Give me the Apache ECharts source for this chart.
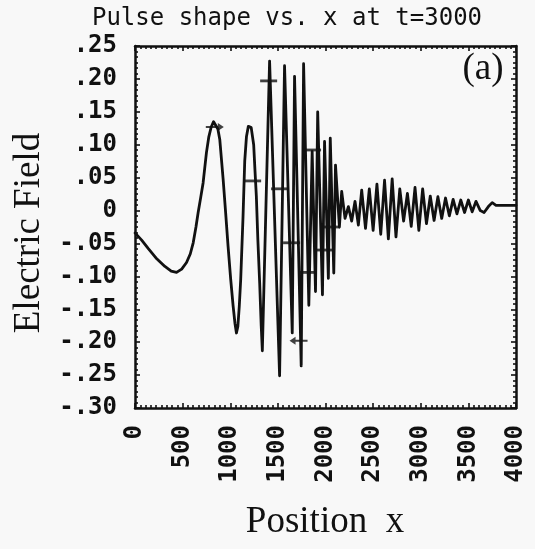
<!DOCTYPE html>
<html><head><meta charset="utf-8">
<script src="https://cdn.jsdelivr.net/npm/echarts@6/dist/echarts.min.js"></script>
<style>html,body{margin:0;padding:0;background:#f8f8f8}#c{width:535px;height:549px}</style>
</head><body><div id="c"></div>
<script>
// ---- texts ----
const titleText = 'Pulse shape vs. x at t=3000';
const xName = 'Position  x';
const yName = 'Electric Field';
const panelTag = '(a)';

// ---- ticks ----
const xTickValues = [0, 500, 1000, 1500, 2000, 2500, 3000, 3500, 4000];
const xTickLabels = ['0', '500', '1000', '1500', '2000', '2500', '3000', '3500', '4000'];
const yTickValues = [-0.30, -0.25, -0.20, -0.15, -0.10, -0.05, 0, 0.05, 0.10, 0.15, 0.20, 0.25];
const yTickLabels = ['-.30', '-.25', '-.20', '-.15', '-.10', '-.05', '0', '.05', '.10', '.15', '.20', '.25'];

// ---- pulse trace ----
const positionX = [
  0, 70, 140, 220, 314, 380, 436, 490, 541, 580, 611, 640, 663, 690, 715, 750, 775, 800, 825, 845,
  870, 890, 925, 950, 977, 1005, 1030, 1050, 1065, 1080, 1095, 1110, 1134, 1152, 1170, 1190, 1204, 1220, 1246, 1260,
  1274, 1290, 1309, 1325, 1337,
  1413, 1518, 1570, 1651, 1675, 1745, 1770, 1825, 1860, 1895, 1918, 1968, 1990, 2030, 2050, 2087, 2105, 2146, 2170,
  2205, 2240, 2275, 2310, 2345, 2380, 2420, 2460, 2500, 2540, 2580, 2620, 2660, 2700, 2740, 2780, 2820, 2860, 2900, 2940,
  2980, 3020, 3060, 3100, 3140, 3180, 3220, 3260, 3300, 3340, 3380, 3420, 3460, 3500, 3540, 3580, 3625, 3665, 3710, 3750,
  3790, 3850, 3920, 4000
];
const fieldE = [
  -0.034, -0.045, -0.058, -0.072, -0.085, -0.092, -0.094, -0.089, -0.079, -0.066, -0.049, -0.025, -0.003, 0.020, 0.042, 0.088, 0.112, 0.127, 0.135, 0.134,
  0.124, 0.108, 0.048, 0.000, -0.054, -0.105, -0.145, -0.172, -0.186, -0.176, -0.145, -0.104, -0.010, 0.075, 0.112, 0.128, 0.131, 0.126, 0.100, 0.060,
  0.022, -0.045, -0.110, -0.175, -0.213,
  0.227, -0.251, 0.220, -0.186, 0.204, -0.236, 0.223, -0.144, 0.090, -0.123, 0.150, -0.128, 0.105, -0.103, 0.110, -0.095, 0.069, -0.025, 0.029,
  -0.012, 0.006, -0.016, 0.014, -0.022, 0.031, -0.027, 0.033, -0.030, 0.040, -0.036, 0.046, -0.043, 0.048, -0.040, 0.033, -0.016, 0.026, -0.024, 0.035,
  -0.030, 0.033, -0.020, 0.022, -0.015, 0.021, -0.012, 0.019, -0.008, 0.017, -0.005, 0.016, -0.003, 0.016, -0.002, 0.014, 0.000, -0.003, 0.006, 0.012,
  0.008, 0.008, 0.008, 0.008
];

// ---- hand-drawn horizontal marks on the trace ----
const dashX = [1235, 1403, 1518, 1644, 1811, 1864, 1979, 2063];
const dashY = [0.045, 0.197, 0.033, -0.049, -0.094, 0.092, -0.060, -0.025];
const arrowRightX = [838];
const arrowRightY = [0.127];
const arrowLeftX = [1717];
const arrowLeftY = [-0.198];

const zip = (a, b) => a.map((v, i) => [v, b[i]]);
const labelFor = (vals, labels) => v => {
  const i = vals.findIndex(t => Math.abs(t - v) < 1e-6);
  return i >= 0 ? labels[i] : '';
};

const ink = '#111';
const tickFont = 'DejaVu Sans Mono';

function xAxisDef(pos, showLabel) {
  return {
    type: 'value', min: 0, max: 4000, interval: 500, position: pos, gridIndex: 0,
    axisLine: { show: true, onZero: false, lineStyle: { color: ink, width: 2.5 } },
    axisTick: { show: true, inside: true, length: 5, lineStyle: { color: ink, width: 1.6 } },
    minorTick: { show: true, splitNumber: 9, length: 3, lineStyle: { color: ink, width: 1.6 } },
    axisLabel: {
      show: showLabel, rotate: 90, margin: 17, fontFamily: tickFont, fontSize: 24, fontWeight: 'bold',
      color: ink, formatter: labelFor(xTickValues, xTickLabels)
    },
    splitLine: { show: false }, minorSplitLine: { show: false }
  };
}
function yAxisDef(pos, showLabel) {
  return {
    type: 'value', min: -0.30, max: 0.25, interval: 0.05, position: pos, gridIndex: 0,
    axisLine: { show: true, onZero: false, lineStyle: { color: ink, width: 2.5 } },
    axisTick: { show: true, inside: true, length: 5, lineStyle: { color: ink, width: 1.6 } },
    minorTick: { show: true, splitNumber: 6, length: 3, lineStyle: { color: ink, width: 1.6 } },
    axisLabel: {
      show: showLabel, margin: 18, fontFamily: tickFont, fontSize: 24, fontWeight: 'bold',
      color: ink, formatter: labelFor(yTickValues, yTickLabels)
    },
    splitLine: { show: false }, minorSplitLine: { show: false }
  };
}

const chart = echarts.init(document.getElementById('c'), null, { renderer: 'canvas' });
chart.setOption({
  backgroundColor: '#f8f8f8',
  animation: false,
  grid: { left: 135, top: 46, width: 381, height: 362, containLabel: false },
  xAxis: [xAxisDef('bottom', true), xAxisDef('top', false)],
  yAxis: [yAxisDef('left', true), yAxisDef('right', false)],
  series: [
    {
      type: 'line', xAxisIndex: 0, yAxisIndex: 0, data: zip(positionX, fieldE),
      showSymbol: false, smooth: false, clip: true,
      lineStyle: { color: ink, width: 2.8, join: 'round', cap: 'round' }, z: 3
    },
    {
      type: 'scatter', data: zip(dashX, dashY), symbol: 'path://M0 0 H16 V2 H0 Z',
      symbolSize: [17, 2.8], itemStyle: { color: ink }, z: 4, silent: true
    },
    {
      type: 'scatter', data: zip(arrowRightX, arrowRightY),
      symbol: 'path://M0 4 L12 4 L12 1 L18 5 L12 9 L12 6 L0 6 Z',
      symbolSize: [18, 8], itemStyle: { color: ink }, z: 4, silent: true
    },
    {
      type: 'scatter', data: zip(arrowLeftX, arrowLeftY),
      symbol: 'path://M18 4 L6 4 L6 1 L0 5 L6 9 L6 6 L18 6 Z',
      symbolSize: [18, 8], itemStyle: { color: ink }, z: 4, silent: true
    }
  ],
  graphic: [
    { type: 'text', x: 287, y: 19, style: { text: titleText, font: '24px "DejaVu Sans Mono"', align: 'center', verticalAlign: 'middle', fill: ink } },
    { type: 'text', x: 483, y: 69, style: { text: panelTag, font: '37px "Liberation Serif"', align: 'center', verticalAlign: 'middle', fill: ink } },
    { type: 'text', x: 325, y: 522, style: { text: xName, font: '37px "Liberation Serif"', align: 'center', verticalAlign: 'middle', fill: ink } },
    { type: 'text', x: 29, y: 233, rotation: Math.PI / 2, style: { text: yName, font: '37px "Liberation Serif"', align: 'center', verticalAlign: 'middle', fill: ink } }
  ]
});
</script>
</body></html>
